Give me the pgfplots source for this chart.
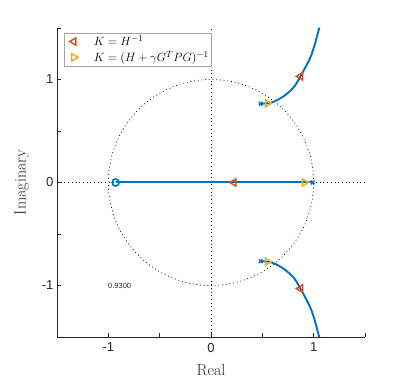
\documentclass[border=0pt]{standalone}
\usepackage{fontspec}
\usepackage{pgfplots}
\pgfplotsset{compat=1.18}
\newfontfamily\helv{Liberation Sans}
\definecolor{mblue}{rgb}{0,0.447,0.741}
\definecolor{morange}{rgb}{0.85,0.325,0.098}
\definecolor{myellow}{rgb}{0.929,0.694,0.125}
\definecolor{axgray}{rgb}{0.15,0.15,0.15}
\begin{document}
\begin{tikzpicture}[x=1pt,y=1pt]
\path[use as bounding box] (0,0) rectangle (407,380);
\begin{axis}[
  at={(57pt,43pt)}, anchor=south west,
  scale only axis, width=308pt, height=309pt,
  xmin=-1.5, xmax=1.5, ymin=-1.5, ymax=1.5,
  axis x line=bottom, axis y line=left,
  axis line style={-, axgray, line width=0.5pt},
  tick align=inside,
  major tick length=4pt, minor tick length=4pt,
  tick style={axgray, line width=0.5pt},
  xtick={-1,0,1}, xticklabels={-1,0,1},
  ytick={-1,0,1}, yticklabels={-1,0,1},
  minor xtick={-1.5,-0.5,0.5,1.5},
  minor ytick={-1.5,-0.5,0.5,1.5},
  ticklabel style={font=\helv\fontsize{13}{15}\selectfont, text=axgray},
  xticklabel style={yshift=-2.5pt},
  xlabel={Real}, ylabel={Imaginary},
  label style={font=\fontsize{16}{19}\selectfont, text=axgray},
  xlabel style={at={(axis description cs:0.5,-0.107)}, anchor=center},
  ylabel style={at={(axis description cs:-0.114,0.5)}, anchor=center},
  legend style={at={(axis description cs:0.023,0.984)}, anchor=north west,
    draw=gray!70, line width=0.5pt, font=\fontsize{13}{15}\selectfont, inner sep=0.5pt,
    row sep=0pt, nodes={inner sep=2pt}, cells={anchor=west}},
  legend cell align=left,
  legend image code/.code={\path[draw=none,fill=none] (-9pt,-2pt) rectangle (18pt,2pt); \draw[#1] plot coordinates {(0pt,0pt)};},
  clip=true,
]
% dotted reference lines
\addplot[forget plot, black, line width=0.7pt, dash pattern=on 0.9pt off 2.8pt] coordinates {(-1.5,0) (1.5,0)};
\addplot[forget plot, black, line width=0.7pt, dash pattern=on 0.9pt off 2.8pt] coordinates {(0,-1.5) (0,1.5)};
\draw[black, line width=0.7pt, dash pattern=on 0.9pt off 2.8pt] (axis cs:0,0) ellipse [x radius=1, y radius=1];
% root locus branches
\addplot[forget plot, mblue, line width=2pt] coordinates {(-0.929,0) (0.99,0)};
\addplot[forget plot, mblue, line width=1.9pt, smooth] coordinates {
 (0.484,0.765) (0.549,0.768) (0.613,0.785) (0.710,0.839) (0.806,0.925) (0.871,1.030) (0.961,1.200) (1.005,1.320) (1.055,1.503)};
\addplot[forget plot, mblue, line width=1.9pt, smooth] coordinates {
 (0.484,-0.765) (0.549,-0.768) (0.613,-0.785) (0.710,-0.839) (0.806,-0.925) (0.871,-1.030) (0.961,-1.200) (1.005,-1.320) (1.055,-1.503)};
% poles and zero
\addplot[forget plot, only marks, mblue, mark=x, mark size=2.6pt, line width=1.4pt] coordinates {(0.484,0.765) (0.484,-0.765) (0.99,0)};
\addplot[forget plot, only marks, mblue, mark=o, mark size=3.5pt, line width=1.6pt, fill=white] coordinates {(-0.929,0)};
% markers
\addplot[only marks, morange, mark=triangle, mark size=4.2pt, line width=1.5pt, mark options={rotate=90}] coordinates {(0.223,0) (0.871,1.030) (0.871,-1.030)};
\addlegendentry{$K = H^{-1}$}
\addplot[only marks, myellow, mark=triangle, mark size=4.2pt, line width=1.5pt, mark options={rotate=-90}] coordinates {(0.91,0) (0.549,0.768) (0.549,-0.768)};
\addlegendentry{$K = (H + \gamma G^T P G)^{-1}$}
\node[font=\helv\fontsize{7.5}{9}\selectfont, text=axgray] at (axis cs:-0.89,-1.0) {0.9300};
\end{axis}
\end{tikzpicture}
\end{document}
